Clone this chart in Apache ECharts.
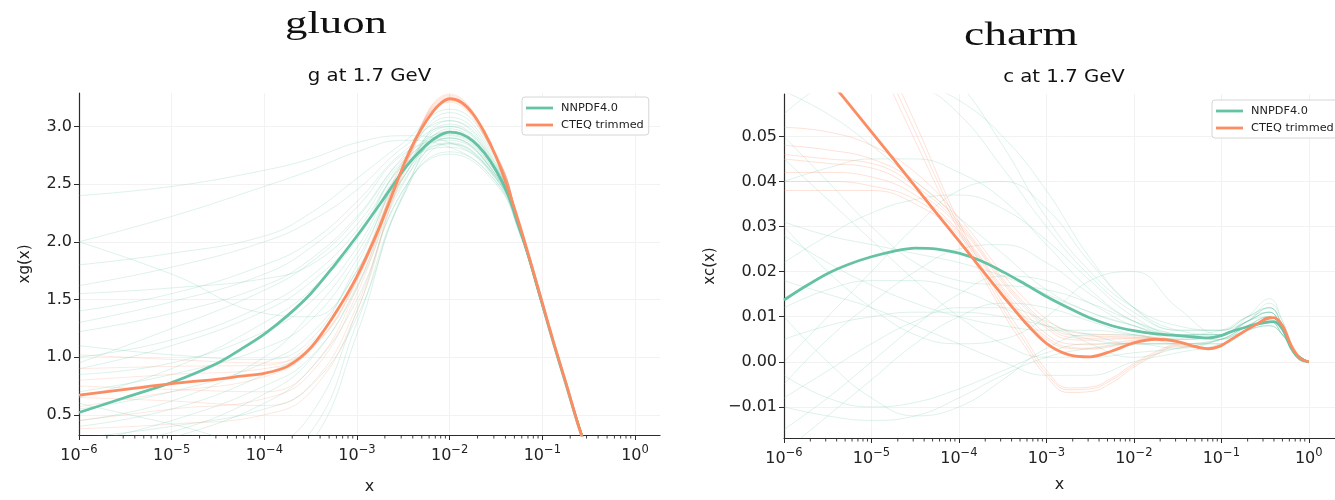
<!DOCTYPE html>
<html><head><meta charset="utf-8">
<script src="https://cdn.jsdelivr.net/npm/echarts@6/dist/echarts.min.js"></script>
<style>html,body{margin:0;padding:0;background:#fff}#c{width:1335px;height:500px}</style>
</head><body><div id="c"></div>
<script>
// ---------- tick labels / names ----------
const X_TICK_EXPONENTS = [-6, -5, -4, -3, -2, -1, 0];
const GLUON_Y_TICKS = [0.5, 1.0, 1.5, 2.0, 2.5, 3.0];
const CHARM_Y_TICKS = [-0.01, 0.0, 0.01, 0.02, 0.03, 0.04, 0.05];
const LEGEND_NAMES = ['NNPDF4.0', 'CTEQ trimmed'];

// ---------- gluon (x values are log10 x) ----------
const GLUON_X = [-6, -5.5, -5, -4.5, -4.25, -4, -3.75, -3.5, -3.25, -3, -2.75, -2.5, -2.375, -2.25, -2.125, -2, -1.875, -1.75, -1.625, -1.5, -1.375, -1.25, -1.125, -1, -0.875, -0.75, -0.6, -0.5];
const GLUON_NNPDF_CENTRAL = [0.52, 0.65, 0.78, 0.95, 1.07, 1.20, 1.36, 1.55, 1.79, 2.05, 2.33, 2.62, 2.74, 2.84, 2.915, 2.95, 2.935, 2.875, 2.77, 2.62, 2.42, 2.14, 1.81, 1.46, 1.11, 0.78, 0.38, 0.15];
const GLUON_CTEQ_CENTRAL  = [0.67, 0.72, 0.77, 0.81, 0.835, 0.86, 0.92, 1.08, 1.36, 1.70, 2.14, 2.66, 2.88, 3.05, 3.18, 3.24, 3.21, 3.11, 2.95, 2.74, 2.47, 2.16, 1.82, 1.47, 1.12, 0.79, 0.38, 0.15];

const GLUON_X_REP = [-6, -5, -4, -3.5, -3, -2.5, -2, -1.5, -1.25, -1, -0.75, -0.5];
const GLUON_NNPDF_REPS = [
  [2.40, 2.48, 2.62, 2.72, 2.86, 2.92, 2.86, 2.56, 2.10, 1.44, 0.78, 0.15],
  [2.00, 2.22, 2.48, 2.62, 2.78, 2.88, 2.82, 2.52, 2.09, 1.44, 0.78, 0.15],
  [1.62, 1.78, 2.00, 2.18, 2.45, 2.82, 3.05, 2.68, 2.13, 1.46, 0.79, 0.15],
  [1.40, 1.55, 1.80, 2.00, 2.35, 2.78, 3.00, 2.66, 2.12, 1.45, 0.78, 0.15],
  [1.22, 1.38, 1.62, 1.85, 2.22, 2.72, 2.95, 2.62, 2.11, 1.45, 0.78, 0.15],
  [1.00, 1.15, 1.45, 1.70, 2.10, 2.70, 3.12, 2.72, 2.14, 1.46, 0.79, 0.15],
  [0.85, 0.95, 1.22, 1.48, 1.95, 2.64, 2.85, 2.55, 2.10, 1.44, 0.78, 0.15],
  [0.70, 0.85, 1.08, 1.32, 1.85, 2.60, 3.00, 2.64, 2.12, 1.45, 0.78, 0.15],
  [0.55, 0.70, 0.95, 1.20, 1.75, 2.56, 2.90, 2.58, 2.11, 1.44, 0.78, 0.15],
  [0.40, 0.55, 0.85, 1.10, 1.70, 2.55, 3.05, 2.67, 2.13, 1.46, 0.79, 0.15],
  [0.25, 0.45, 0.75, 1.00, 1.60, 2.50, 2.95, 2.62, 2.11, 1.45, 0.78, 0.15],
  [0.10, 0.30, 0.60, 0.90, 1.50, 2.45, 2.78, 2.52, 2.09, 1.44, 0.78, 0.15],
  [2.00, 1.72, 1.38, 1.35, 1.75, 2.56, 2.92, 2.60, 2.11, 1.45, 0.78, 0.15],
  [1.10, 1.02, 0.98, 1.15, 1.80, 2.62, 2.96, 2.62, 2.11, 1.45, 0.78, 0.15],
  [0.60, 0.42, 0.25, 0.50, 1.40, 2.45, 2.76, 2.50, 2.08, 1.43, 0.77, 0.15],
  [1.80, 1.90, 2.05, 2.25, 2.55, 2.86, 3.15, 2.74, 2.14, 1.46, 0.79, 0.15],
  [0.90, 1.10, 1.40, 1.65, 2.05, 2.66, 2.82, 2.54, 2.10, 1.44, 0.78, 0.15],
  [0.30, 0.40, 0.55, 0.75, 1.35, 2.40, 2.98, 2.64, 2.12, 1.45, 0.78, 0.15],
  [1.30, 1.48, 1.72, 1.95, 2.30, 2.76, 2.88, 2.57, 2.11, 1.45, 0.78, 0.15],
  [0.95, 1.25, 1.58, 1.82, 2.20, 2.74, 3.08, 2.70, 2.13, 1.46, 0.79, 0.15],
  [0.65, 0.90, 1.30, 1.58, 2.02, 2.68, 2.93, 2.60, 2.11, 1.45, 0.78, 0.15],
  [0.45, 0.62, 1.00, 1.38, 1.90, 2.62, 3.02, 2.65, 2.12, 1.45, 0.78, 0.15],
  [1.55, 1.60, 1.68, 1.80, 2.15, 2.70, 2.90, 2.58, 2.11, 1.45, 0.78, 0.15],
  [0.20, 0.35, 0.68, 0.98, 1.62, 2.52, 2.86, 2.56, 2.10, 1.44, 0.78, 0.15],
  [0.05, 0.10, 0.20, 0.35, 1.30, 2.40, 2.85, 2.55, 2.10, 1.44, 0.78, 0.15],
  [-0.20, -0.10, 0.05, 0.25, 1.20, 2.42, 2.90, 2.58, 2.11, 1.45, 0.78, 0.15]
];
const GLUON_CTEQ_REPS = [
  [1.02, 0.98, 0.95, 1.08, 1.66, 2.66, 3.27, 2.76, 2.16, 1.47, 0.79, 0.15],
  [0.90, 0.92, 0.93, 1.12, 1.72, 2.70, 3.22, 2.73, 2.15, 1.47, 0.79, 0.15],
  [0.80, 0.85, 0.90, 1.08, 1.68, 2.66, 3.25, 2.75, 2.15, 1.47, 0.79, 0.15],
  [0.57, 0.70, 0.83, 1.06, 1.67, 2.65, 3.23, 2.74, 2.15, 1.47, 0.79, 0.15],
  [0.45, 0.55, 0.64, 0.86, 1.55, 2.62, 3.26, 2.75, 2.15, 1.47, 0.79, 0.15],
  [0.75, 0.72, 0.70, 0.90, 1.60, 2.63, 3.24, 2.74, 2.15, 1.47, 0.79, 0.15],
  [0.65, 0.62, 0.58, 0.76, 1.45, 2.60, 3.28, 2.76, 2.16, 1.47, 0.79, 0.15],
  [0.38, 0.42, 0.50, 0.70, 1.40, 2.58, 3.21, 2.73, 2.15, 1.47, 0.79, 0.15]
];

// ---------- charm ----------
const CHARM_X_CENTRAL = [-6, -5.75, -5.5, -5.25, -5, -4.75, -4.5, -4.25, -4, -3.75, -3.5, -3.25, -3, -2.75, -2.5, -2.25, -2, -1.75, -1.5, -1.3, -1.15, -1, -0.9, -0.75, -0.6, -0.5, -0.4, -0.3, -0.2, -0.1, 0];
const CHARM_NNPDF_CENTRAL = [0.0137, 0.0168, 0.0196, 0.0217, 0.0233, 0.0245, 0.0252, 0.0250, 0.0241, 0.0224, 0.0200, 0.0173, 0.0145, 0.0120, 0.0097, 0.0080, 0.0069, 0.0062, 0.0058, 0.0055, 0.0053, 0.0058, 0.0066, 0.0075, 0.0083, 0.0087, 0.0089, 0.0072, 0.0030, 0.0006, 0.0];
const CHARM_CTEQ_CENTRAL  = [0.0770, 0.0700, 0.0630, 0.0570, 0.0510, 0.0450, 0.0389, 0.0328, 0.0268, 0.0207, 0.0147, 0.0089, 0.0041, 0.0016, 0.0011, 0.0024, 0.0042, 0.0050, 0.0045, 0.0034, 0.0029, 0.0036, 0.0048, 0.0066, 0.0083, 0.0094, 0.0098, 0.0080, 0.0036, 0.0008, 0.0];

const CHARM_X = [-6, -5.5, -5, -4.5, -4, -3.5, -3.25, -3, -2.75, -2.5, -2.25, -2, -1.75, -1.5, -1.15, -0.9, -0.6, -0.45, -0.3, -0.15, 0];
const CHARM_CTEQ_REPS = [
  [0.052, 0.051, 0.048, 0.042, 0.032, 0.0195, 0.014, 0.0095, 0.0068, 0.0062, 0.0060, 0.0058, 0.0054, 0.0046, 0.0030, 0.0048, 0.0083, 0.0100, 0.0079, 0.0016, 0],
  [0.048, 0.047, 0.045, 0.040, 0.031, 0.0185, 0.013, 0.0085, 0.0060, 0.0057, 0.0056, 0.0055, 0.0052, 0.0045, 0.0029, 0.0048, 0.0083, 0.0099, 0.0078, 0.0016, 0],
  [0.045, 0.044, 0.043, 0.038, 0.030, 0.0175, 0.012, 0.0075, 0.0050, 0.0048, 0.0050, 0.0052, 0.0051, 0.0044, 0.0028, 0.0048, 0.0083, 0.0099, 0.0078, 0.0016, 0],
  [0.042, 0.042, 0.041, 0.037, 0.029, 0.0165, 0.011, 0.0062, 0.0040, 0.0038, 0.0042, 0.0048, 0.0050, 0.0044, 0.0028, 0.0048, 0.0083, 0.0099, 0.0078, 0.0016, 0],
  [0.040, 0.040, 0.039, 0.036, 0.0285, 0.016, 0.010, 0.0055, 0.0033, 0.0030, 0.0036, 0.0045, 0.0049, 0.0044, 0.0028, 0.0048, 0.0083, 0.0099, 0.0078, 0.0016, 0],
  [0.038, 0.038, 0.038, 0.035, 0.028, 0.0155, 0.0095, 0.0050, 0.0030, 0.0028, 0.0034, 0.0044, 0.0049, 0.0044, 0.0028, 0.0048, 0.0083, 0.0099, 0.0078, 0.0016, 0],
  [0.046, 0.045, 0.044, 0.039, 0.0305, 0.018, 0.0125, 0.0080, 0.0055, 0.0052, 0.0053, 0.0053, 0.0052, 0.0044, 0.0028, 0.0048, 0.0083, 0.0099, 0.0078, 0.0016, 0],
  [0.110, 0.093, 0.072, 0.051, 0.030, 0.012, 0.0045, -0.0025, -0.0062, -0.0060, -0.0040, -0.0008, 0.0018, 0.0036, 0.0030, 0.0048, 0.0083, 0.0099, 0.0078, 0.0016, 0],
  [0.112, 0.095, 0.074, 0.053, 0.031, 0.013, 0.0055, -0.0018, -0.0058, -0.0056, -0.0036, -0.0004, 0.0022, 0.0038, 0.0030, 0.0048, 0.0083, 0.0099, 0.0078, 0.0016, 0],
  [0.108, 0.091, 0.070, 0.049, 0.029, 0.011, 0.0035, -0.0032, -0.0068, -0.0066, -0.0046, -0.0012, 0.0015, 0.0034, 0.0029, 0.0048, 0.0083, 0.0099, 0.0078, 0.0016, 0]
];
const CHARM_X_REP = [-6, -5.5, -5, -4.5, -4, -3.5, -3, -2.5, -2, -1.5, -1, -0.7, -0.45, -0.3, -0.15, 0];
const CHARM_NNPDF_REPS = [
  [0.060, 0.055, 0.048, 0.040, 0.032, 0.024, 0.016, 0.011, 0.008, 0.006, 0.007, 0.010, 0.011, 0.007, 0.002, 0],
  [0.031, 0.028, 0.026, 0.024, 0.022, 0.019, 0.015, 0.011, 0.008, 0.005, 0.006, 0.009, 0.012, 0.008, 0.002, 0],
  [-0.005, 0.005, 0.013, 0.020, 0.025, 0.026, 0.022, 0.015, 0.009, 0.006, 0.005, 0.008, 0.010, 0.007, 0.002, 0],
  [0.010, 0.000, -0.008, -0.012, -0.010, -0.004, 0.003, 0.006, 0.006, 0.004, 0.004, 0.007, 0.009, 0.006, 0.002, 0],
  [-0.003, -0.008, -0.010, -0.009, -0.006, -0.002, 0.002, 0.004, 0.004, 0.003, 0.005, 0.008, 0.009, 0.006, 0.002, 0],
  [0.045, 0.036, 0.027, 0.018, 0.010, 0.004, 0.001, 0.001, 0.002, 0.003, 0.005, 0.008, 0.010, 0.007, 0.002, 0],
  [0.022, 0.028, 0.033, 0.036, 0.037, 0.034, 0.027, 0.018, 0.010, 0.006, 0.006, 0.009, 0.011, 0.007, 0.002, 0],
  [-0.015, -0.008, 0.000, 0.008, 0.015, 0.019, 0.018, 0.013, 0.008, 0.006, 0.006, 0.009, 0.013, 0.009, 0.002, 0],
  [0.005, 0.008, 0.010, 0.011, 0.011, 0.010, 0.008, 0.006, 0.004, 0.004, 0.005, 0.007, 0.008, 0.006, 0.002, 0],
  [0.055, 0.062, 0.065, 0.062, 0.055, 0.043, 0.030, 0.019, 0.011, 0.007, 0.007, 0.010, 0.012, 0.008, 0.002, 0],
  [-0.020, -0.012, -0.004, 0.004, 0.010, 0.013, 0.012, 0.009, 0.006, 0.005, 0.006, 0.009, 0.011, 0.007, 0.002, 0],
  [0.018, 0.015, 0.012, 0.008, 0.004, 0.000, -0.003, -0.003, 0.000, 0.002, 0.004, 0.007, 0.008, 0.006, 0.002, 0],
  [0.040, 0.043, 0.045, 0.045, 0.042, 0.036, 0.026, 0.016, 0.009, 0.006, 0.006, 0.010, 0.014, 0.009, 0.002, 0],
  [0.070, 0.068, 0.065, 0.062, 0.058, 0.050, 0.038, 0.023, 0.012, 0.007, 0.007, 0.009, 0.011, 0.007, 0.002, 0],
  [0.012, 0.016, 0.018, 0.018, 0.016, 0.012, 0.008, 0.005, 0.004, 0.004, 0.005, 0.008, 0.009, 0.006, 0.002, 0],
  [-0.010, -0.012, -0.013, -0.012, -0.008, -0.003, 0.001, 0.003, 0.004, 0.004, 0.004, 0.007, 0.008, 0.006, 0.002, 0],
  [0.028, 0.022, 0.017, 0.013, 0.010, 0.008, 0.007, 0.007, 0.006, 0.005, 0.006, 0.009, 0.010, 0.007, 0.002, 0],
  [0.000, 0.010, 0.020, 0.030, 0.038, 0.040, 0.034, 0.022, 0.012, 0.007, 0.006, 0.009, 0.012, 0.008, 0.002, 0],
  [0.030, 0.020, 0.012, 0.006, 0.004, 0.005, 0.010, 0.018, 0.020, 0.012, 0.006, 0.009, 0.011, 0.007, 0.002, 0],
  [0.050, 0.040, 0.030, 0.022, 0.018, 0.017, 0.016, 0.013, 0.009, 0.006, 0.005, 0.008, 0.010, 0.007, 0.002, 0],
  [-0.008, -0.002, 0.004, 0.009, 0.012, 0.012, 0.009, 0.004, 0.001, 0.003, 0.005, 0.008, 0.009, 0.006, 0.002, 0],
  [0.090, 0.085, 0.080, 0.072, 0.062, 0.048, 0.032, 0.020, 0.012, 0.008, 0.007, 0.010, 0.012, 0.008, 0.002, 0]
];

// ---------- styling ----------
const GREEN = '#66c2a5', ORANGE = '#fc8d62';
const FONT = 'DejaVu Sans';
const AXIS_COLOR = '#2b2b2b';
const PANELS = [
  { grid: { left: 79, top: 93, width: 581, height: 355 }, xMax: 0.27, yMin: 0.325, yMax: 3.29,
    yTicks: GLUON_Y_TICKS, yFmt: v => v.toFixed(1), yName: 'xg(x)', yNameGap: 46, xNameGap: 44 },
  { grid: { left: 784, top: 94, width: 563, height: 344 }, xMax: 0.30, yMin: -0.0169, yMax: 0.0594,
    yTicks: CHARM_Y_TICKS, yFmt: v => (Math.abs(v) < 1e-9 ? '0.00' : v.toFixed(2).replace('-', '\u2212')), yName: 'xc(x)', yNameGap: 66, xNameGap: 39 }
];

const chart = echarts.init(document.getElementById('c'), null, { renderer: 'canvas' });

function line(name, xs, ys, idx, color, width, opacity, z, smooth) {
  return {
    type: 'line', name: name, xAxisIndex: idx, yAxisIndex: idx,
    data: xs.map((x, i) => [x, ys[i]]), smooth: smooth, symbol: 'none', showSymbol: false,
    lineStyle: { color: color, width: width, opacity: opacity }, itemStyle: { color: color },
    silent: true, z: z, clip: true, emphasis: { disabled: true }
  };
}

const series = [];
GLUON_NNPDF_REPS.forEach(r => series.push(line('rep_g_nn', GLUON_X_REP, r, 0, GREEN, 1, 0.22, 2, 0.45)));
GLUON_CTEQ_REPS.forEach(r => series.push(line('rep_g_ct', GLUON_X_REP, r, 0, ORANGE, 1, 0.2, 3, 0.45)));
series.push(line('NNPDF4.0', GLUON_X, GLUON_NNPDF_CENTRAL, 0, GREEN, 2.8, 1, 5, 0.3));
series.push(line('CTEQ trimmed', GLUON_X, GLUON_CTEQ_CENTRAL, 0, ORANGE, 2.8, 1, 6, 0.3));
CHARM_NNPDF_REPS.forEach(r => series.push(line('rep_c_nn', CHARM_X_REP, r, 1, GREEN, 1, 0.22, 2, 0.45)));
CHARM_CTEQ_REPS.forEach(r => series.push(line('rep_c_ct', CHARM_X, r, 1, ORANGE, 1, 0.25, 3, 0.45)));
series.push(line('NNPDF4.0', CHARM_X_CENTRAL, CHARM_NNPDF_CENTRAL, 1, GREEN, 2.8, 1, 5, 0.3));
series.push(line('CTEQ trimmed', CHARM_X_CENTRAL, CHARM_CTEQ_CENTRAL, 1, ORANGE, 2.8, 1, 6, 0.3));

// minor log ticks (axis decoration)
PANELS.forEach((p, idx) => {
  const minor = [];
  for (let n = -6; n <= 0; n++) for (let k = 2; k <= 9; k++) {
    const v = n + Math.log10(k);
    if (v < p.xMax) minor.push([v, p.yMin]);
  }
  series.push({
    type: 'custom', xAxisIndex: idx, yAxisIndex: idx, data: minor, silent: true, clip: false, z: 10,
    encode: { x: 0, y: 1 },
    renderItem: (params, api) => {
      const pt = api.coord([api.value(0), api.value(1)]);
      return { type: 'line', shape: { x1: pt[0], y1: pt[1], x2: pt[0], y2: pt[1] + 3.5 },
               style: { stroke: AXIS_COLOR, lineWidth: 0.9 } };
    }
  });
});

const xLabelFmt = v => {
  const e = Math.round(v);
  return '{a|10}{b|' + (e < 0 ? '\u2212' + (-e) : String(e)) + '}';
};

const titleText = (text, x, y, size, family, sx) => ({
  type: 'text', x: x, y: y, scaleX: sx, scaleY: 1,
  style: { text: text, fontFamily: family, fontSize: size, fill: '#111', align: 'center', verticalAlign: 'middle' }
});

const option = {
  animation: false,
  backgroundColor: '#fff',
  grid: PANELS.map(p => Object.assign({ containLabel: false }, p.grid)),
  xAxis: PANELS.map((p, idx) => ({
    type: 'value', gridIndex: idx, min: -6, max: p.xMax,
    name: 'x', nameLocation: 'middle', nameGap: p.xNameGap,
    nameTextStyle: { fontFamily: FONT, fontSize: 16, color: '#222' },
    axisLine: { show: true, onZero: false, lineStyle: { color: AXIS_COLOR, width: 1.2 } },
    axisTick: { show: true, length: 5, customValues: X_TICK_EXPONENTS, lineStyle: { color: AXIS_COLOR, width: 1 } },
    axisLabel: { show: true, customValues: X_TICK_EXPONENTS, formatter: xLabelFmt, margin: 9,
      rich: {
        a: { fontFamily: FONT, fontSize: 16, color: '#222', verticalAlign: 'bottom', lineHeight: 20 },
        b: { fontFamily: FONT, fontSize: 11.5, color: '#222', verticalAlign: 'top', lineHeight: 20, padding: [0, 0, 6, 0] }
      } },
    splitLine: { show: true, lineStyle: { color: '#f2f2f2', width: 1 } }
  })),
  yAxis: PANELS.map((p, idx) => ({
    type: 'value', gridIndex: idx, min: p.yMin, max: p.yMax,
    name: p.yName, nameLocation: 'middle', nameGap: p.yNameGap, nameRotate: 90,
    nameTextStyle: { fontFamily: FONT, fontSize: 15, color: '#222' },
    axisLine: { show: true, onZero: false, lineStyle: { color: AXIS_COLOR, width: 1.2 } },
    axisTick: { show: true, length: 5, customValues: p.yTicks, lineStyle: { color: AXIS_COLOR, width: 1 } },
    axisLabel: { show: true, customValues: p.yTicks, formatter: p.yFmt, margin: 7,
      fontFamily: FONT, fontSize: 16, color: '#222' },
    splitLine: { show: true, lineStyle: { color: '#f2f2f2', width: 1 } }
  })),
  legend: [
    { left: 522, top: 97 }, { left: 1212, top: 100 }
  ].map(pos => ({
    data: LEGEND_NAMES, orient: 'vertical', left: pos.left, top: pos.top, icon: 'rect',
    itemWidth: 27, itemHeight: 2.8, itemGap: 5, padding: [5, 5, 4, 4],
    borderColor: '#d6d6d6', borderWidth: 1, borderRadius: 3, backgroundColor: '#fff',
    selectedMode: false,
    textStyle: { fontFamily: FONT, fontSize: 11.3, color: '#222', padding: [0, 0, 0, 3], lineHeight: 12 }
  })),
  graphic: [
    titleText('gluon', 336, 25, 32, 'Liberation Serif', 1.4),
    titleText('charm', 1021, 36, 33, 'Liberation Serif', 1.38),
    titleText('g at 1.7 GeV', 369.5, 77, 17, FONT, 1.16),
    titleText('c at 1.7 GeV', 1064, 78, 17, FONT, 1.16)
  ],
  series: series
};
chart.setOption(option);
</script>
</body></html>
